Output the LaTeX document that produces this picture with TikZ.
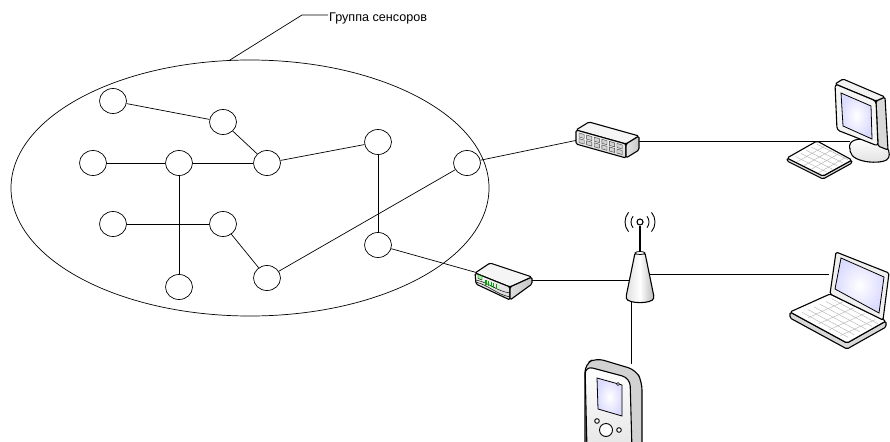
\documentclass[tikz,border=0pt]{standalone}
\usepackage{fontspec}
\setmainfont{Liberation Sans}
\usetikzlibrary{shapes.geometric}

\begin{document}
\begin{tikzpicture}[x=1pt,y=-1pt,
		sensor/.style={draw,ellipse,minimum width=27pt,minimum height=25pt,inner sep=0pt,line width=0.7pt},
		link/.style={line width=0.7pt},
		dev/.style={draw,line width=1.1pt,line join=round,rounded corners=1.5pt},
		keys/.style={gray!60,line width=0.4pt}]
	\useasboundingbox (0,0) rectangle (890,441);
	\node[draw,ellipse,minimum width=478pt,minimum height=256pt,link] (grp) at (250,188) {};
	\node[anchor=west,font=\fontsize{12.6}{14}\selectfont,inner sep=1pt] (lbl) at (328,18.5) {Группа сенсоров};
	\coordinate (bend) at (302,15);
	\draw[link] (grp.99) -- (bend) -- (lbl.west |- bend);
	\foreach \s/\x/\y in {s1/113/101,s2/223/122,s3/93/163,s4/179/163,s5/267/163,s6/378/142,
			s7/467/163,s8/113/224,s9/223/224,s10/378/245,s11/179/287,s12/267/278}
		\node[sensor] (\s) at (\x,\y) {};
	\foreach \a/\b in {s1/s2,s2/s5,s3/s4,s4/s5,s5/s6,s6/s10,s4/s11,s8/s9,s9/s12,s12/s7}
		\draw[link] (\a) -- (\b);
	\coordinate (sw-w) at (578,140);
	\coordinate (sw-e) at (636,141);
	\coordinate (pc) at (850,141);
	\coordinate (rt-w) at (478,273);
	\coordinate (rt-e) at (530,280);
	\coordinate (ant-w) at (632,280);
	\coordinate (ant-e) at (648,274);
	\coordinate (ant-s) at (631,298);
	\coordinate (lap) at (829,274);
	\coordinate (pda) at (631,364);
	\draw[link] (s7) -- (sw-w);
	\draw[link] (sw-e) -- (pc);
	\draw[link] (s10) -- (rt-w);
	\draw[link] (rt-e) -- (ant-w);
	\draw[link] (ant-e) -- (lap);
	\draw[link] (ant-s) -- (pda);
	% switch
	\draw[dev,fill=gray!8] (576,130) -- (589,122) -- (639,136) -- (626,144) -- cycle;
	\draw[dev,top color=gray!5,bottom color=gray!30] (576,130) -- (626,144) -- (626,158) -- (576,144) -- cycle;
	\draw[dev,left color=gray!20,right color=gray!45] (626,144) -- (639,136) -- (639,150) -- (626,158) -- cycle;
	\foreach \i in {0,...,5}
		\foreach \j in {0,1}
			\draw[gray!50!black,fill=gray!35,line width=0.4pt,shift={(579+\i*7.6,133+\i*2.1+\j*5.6)}]
				(0,0) -- (5.2,1.45) -- (5.2,5.4) -- (0,4) -- cycle;
	% router
	\draw[dev,fill=gray!8] (475,273) -- (490,263) -- (532,277) -- (510,287) -- cycle;
	\draw[dev,top color=gray!5,bottom color=gray!35] (475,273) -- (510,287) -- (510,300) -- (476,284) -- cycle;
	\draw[dev,left color=gray!25,right color=gray!45] (510,287) -- (532,277) -- (532,284) -- (510,300) -- cycle;
	\draw[line width=0.5pt] (476,280) .. controls (490,283) and (496,291) .. (510,293);
	\draw[line width=0.5pt] (476,282) .. controls (490,286) and (496,294) .. (510,297);
	\draw[line width=0.4pt,fill=green!45] (478,274.5) -- (482,276) -- (482,280) -- (478,278.5) -- cycle;
	\foreach \i in {0,...,4}
		\draw[green!65!black,line width=1.3pt] (486+\i*2.6,280+\i*1) -- ++(0,4.5);
	% antenna
	\draw[line width=1.3pt] (640,252) -- (640,226);
	\draw[line width=1.1pt,fill=white] (640,222) circle (3);
	\foreach \r in {9,15}{
		\draw[line width=0.9pt] (640,222) ++(-40:\r) arc[start angle=-40,end angle=40,radius=\r];
		\draw[line width=0.9pt] (640,222) ++(140:\r) arc[start angle=140,end angle=220,radius=\r];
	}
	\draw[dev,left color=gray!25,right color=gray!55,middle color=white] (635,253) -- (626,297)
		.. controls (628,304) and (652,304) .. (654,297) -- (645,253) -- cycle;
	\draw[line width=0.8pt,fill=white] (640,253) ellipse (5 and 1.5);
	% desktop computer
	\draw[dev,top color=white,bottom color=gray!25] (850,150) .. controls (848,140) and (858,138) .. (868,140)
		.. controls (885,142) and (890,150) .. (889,156) .. controls (887,165) and (852,164) .. cycle;
	\draw[dev,fill=gray!30] (876,101) -- (885,97) -- (888,150) -- (878,146) -- cycle;
	\draw[dev,fill=gray!10] (835,84) -- (843,79) -- (885,97) -- (876,101) -- cycle;
	\draw[dev,fill=gray!8,rounded corners=3pt] (835,84) -- (876,101) -- (878,146) -- (837,130) -- cycle;
	\draw[line width=0.8pt,inner color=white,outer color=blue!14] (841,93) -- (871,106) -- (872,139) -- (843,126) -- cycle;
	\draw[dev,fill=gray!30] (787,158) -- (823,176) -- (852,160) -- (852,163) -- (823,179) -- (787,161) -- cycle;
	\draw[dev,fill=white] (787,158) -- (817,141) -- (852,160) -- (823,176) -- cycle;
	\foreach \t in {0.22,0.42,0.62,0.82}
		\draw[keys] (789+36*\t,158+18*\t) -- ++(27,-15.3);
	\foreach \t in {0.18,0.36,0.54,0.72,0.9}
		\draw[keys] (787+30*\t,158-17*\t) ++(3,1.5) -- ++(31,15.5);
	% laptop
	\draw[dev,fill=gray!30] (790,312) -- (847,343) -- (886,321) -- (886,327) -- (847,349) -- (790,318) -- cycle;
	\draw[dev,fill=white] (790,312) -- (830,294) -- (886,321) -- (847,343) -- cycle;
	\foreach \t in {0.2,0.4,0.6,0.8}
		\draw[keys] (797+57*\t*0.95,312+31*\t*0.95) -- ++(35,-16);
	\foreach \t in {0.15,0.3,0.45,0.6,0.75,0.9}
		\draw[keys] (790+40*\t,312-18*\t) ++(6,3) -- ++(46,25);
	\draw[dev,fill=gray!12] (830,294) -- (836,252) -- (889,273) -- (883,320) -- cycle;
	\draw[line width=0.8pt,inner color=white,outer color=blue!14] (835,289) -- (841,258) -- (884,277) -- (879,313) -- cycle;
	% handheld
	\draw[dev,fill=gray!35,rounded corners=8pt] (585,450) -- (585,364) -- (596,358) -- (636,370) -- (642,382) -- (642,450) -- cycle;
	\draw[dev,top color=white,bottom color=gray!20,rounded corners=8pt] (587,450) -- (585,366) -- (630,378) -- (632,450) -- cycle;
	\draw[line width=0.8pt,inner color=white,outer color=blue!14] (597,378) -- (622,385) -- (622,416) -- (598,409) -- cycle;
	\draw[line width=0.6pt,fill=white] (618,384) circle (1.5);
	\draw[line width=0.9pt,fill=white] (606,430) circle (6.5);
	\draw[line width=0.9pt,fill=white] (597,421) circle (2.3);
	\draw[line width=0.9pt,fill=white] (619,430) circle (2.3);
\end{tikzpicture}
\end{document}
